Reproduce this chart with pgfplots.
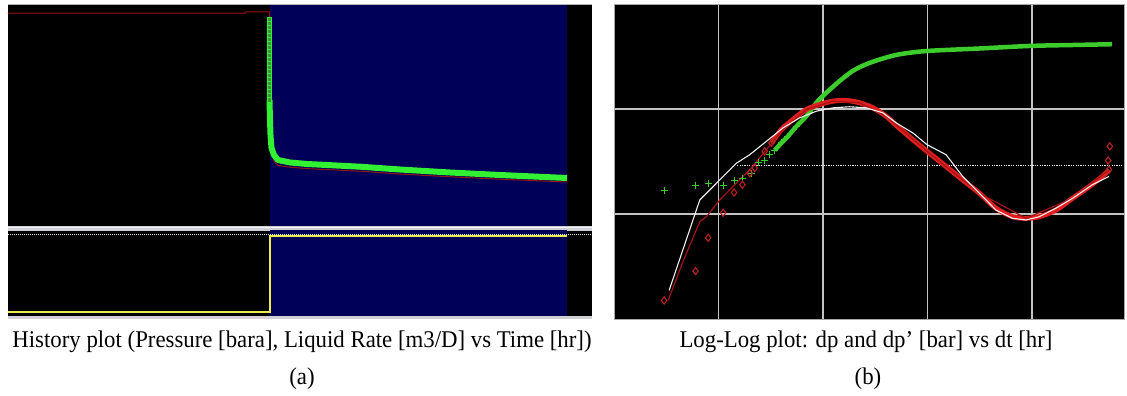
\documentclass[border=0pt]{standalone}
\usepackage{pgfplots}
\pgfplotsset{compat=1.18}
\usepackage{fontspec}
\setmainfont{Liberation Serif}

\definecolor{navy}{RGB}{0,0,88}
\definecolor{histgreen}{RGB}{50,240,50}
\definecolor{sqfill}{RGB}{60,150,55}
\definecolor{presred}{RGB}{150,20,20}
\definecolor{sepgrey}{RGB}{208,208,215}
\definecolor{rateyellow}{RGB}{235,235,80}
\definecolor{dpgreen}{RGB}{60,205,45}
\definecolor{derred}{RGB}{225,30,30}
\definecolor{diared}{RGB}{185,35,35}
\definecolor{fitred}{RGB}{165,20,20}
\definecolor{gridgrey}{RGB}{195,195,195}

\pgfplotsset{
  panel/.style={
    scale only axis, anchor=south west,
    xtick=\empty, ytick=\empty,
    axis background/.style={fill=black},
    axis line style={draw=none},
    clip=true,
  },
}

\begin{document}
\begin{tikzpicture}[x=1pt,y=1pt]
\useasboundingbox (0,0) rectangle (1127,396);

% ---------- (a) history plot: pressure pane ----------
\begin{axis}[panel, at={(8pt,170pt)}, width=584pt, height=221pt,
  xmin=0, xmax=58.4, ymin=150, ymax=260.5]
  % shut-in period
  \addplot[fill=navy, draw=none] coordinates {(26.2,140) (55.9,140) (55.9,270) (26.2,270)} -- cycle;
  % pressure
  \addplot[presred, line width=1pt] coordinates {
    (0,256.4) (23.7,256.4) (23.7,257) (26.15,257) (26.15,211) (26.25,200)
    (26.3,192.5) (26.4,186) (26.6,182.3) (27.0,180.3) (28.2,179.4) (29.9,178.7)
    (35.2,177.4) (39.2,176.0) (44.2,174.6) (49.2,173.4) (55.9,172.0)};
  % build-up points
  \addplot[histgreen, line width=6pt, line join=round] coordinates {
    (26.15,213) (26.2,203) (26.25,195.5) (26.35,189) (26.6,185.5) (27.0,183)
    (28.2,181.75) (29.9,181) (35.2,179.65) (39.2,178.25) (44.2,176.75)
    (49.2,175.5) (55.9,174)};
  \addplot[only marks, mark=square*, mark size=2.4pt,
    mark options={draw=histgreen, fill=sqfill, line width=1pt}] coordinates {
    (26.15,253) (26.15,251) (26.15,249) (26.15,247) (26.15,245) (26.15,243)
    (26.15,241) (26.15,239) (26.15,237) (26.15,235) (26.15,233) (26.15,231)
    (26.15,229) (26.15,227) (26.15,225) (26.15,223) (26.15,221) (26.15,219)
    (26.15,217) (26.15,215) (26.15,213)};
\end{axis}
\draw[gray!60, line width=0.8pt] (8,391.5) -- (592,391.5);
\fill[sepgrey] (8,165) rectangle (592,170);
\fill[white!92!gray] (8,167.5) rectangle (592,169);

% ---------- (a) history plot: rate pane ----------
\begin{axis}[panel, at={(8pt,80pt)}, width=584pt, height=85pt,
  xmin=0, xmax=58.4, ymin=-40, ymax=810]
  \addplot[fill=navy, draw=none] coordinates {(26.2,-100) (55.9,-100) (55.9,900) (26.2,900)} -- cycle;
  \addplot[white!80!gray, line width=1pt, dash pattern=on 1pt off 1pt] coordinates {(0,770) (58.4,770)};
  % liquid rate
  \addplot[rateyellow, line width=1.3pt] coordinates {
    (0,0) (26.2,0) (26.2,760) (55.9,760)};
\end{axis}
\fill[sepgrey] (8,77) rectangle (592,80);

% ---------- (b) log-log plot ----------
\begin{axis}[panel, at={(614pt,77pt)}, width=510pt, height=315pt,
  xmode=log, ymode=log,
  xmin=1e-3, xmax=75.9, ymin=0.01, ymax=10,
  xtick={0.01,0.1,1,10}, ytick={0.1,1},
  minor xtick={}, minor ytick={},
  xticklabels={}, yticklabels={}, major tick length=0pt, minor tick length=0pt,
  grid=major, grid style={gridgrey, line width=1.2pt},
  axis line style={draw=gray!70, line width=0.8pt}]
  % reference level
  \addplot[white!85!gray, line width=1pt, dash pattern=on 1.2pt off 1.2pt]
    coordinates {(0.0151,0.287) (75.9,0.287)};
  % pressure change dp
  \addplot[dpgreen, line width=4.5pt, smooth] coordinates {
    (0.0345,0.404) (0.0400,0.475) (0.0462,0.549) (0.0556,0.684) (0.0692,0.853)
    (0.0863,1.146) (0.1076,1.429) (0.144,1.845) (0.192,2.30) (0.259,2.67)
    (0.371,3.02) (0.540,3.32) (0.991,3.57) (3.13,3.77) (9.76,3.99) (28.2,4.08)
    (58.3,4.14)};
  \addplot[only marks, mark=+, mark size=3.5pt, mark options={dpgreen, line width=1pt}]
    coordinates {
    (0.00302,0.167) (0.00603,0.188) (0.00796,0.197) (0.01107,0.188) (0.01409,0.207)
    (0.01694,0.220) (0.02065,0.245) (0.02427,0.308) (0.02767,0.324) (0.0309,0.367)
    (0.0345,0.404) (0.0400,0.475) (0.0462,0.549) (0.0556,0.684)};
  % derivative dp'
  \addplot[derred, line width=5pt, smooth] coordinates {
    (0.0321,0.475) (0.0400,0.637) (0.0516,0.794) (0.0692,0.989) (0.0929,1.104)
    (0.1245,1.188) (0.167,1.206) (0.224,1.146) (0.300,1.026) (0.403,0.853)
    (0.516,0.681) (0.723,0.511) (0.991,0.395) (1.505,0.284) (2.17,0.211)
    (3.13,0.158) (4.52,0.1135) (6.51,0.0942) (8.75,0.0910) (11.72,0.0942)
    (16.9,0.109) (24.4,0.141) (35.2,0.182) (47.1,0.228) (54.6,0.264)};
  \addplot[only marks, mark=diamond, mark size=3.6pt, mark options={diared, line width=1.1pt}]
    coordinates {
    (0.00302,0.01503) (0.00603,0.0286) (0.00796,0.0593) (0.01107,0.1028)
    (0.01409,0.160) (0.01694,0.190) (0.0199,0.245) (0.0222,0.274) (0.02767,0.395)
    (0.0321,0.475) (55.5,0.441) (53.5,0.323) (54.6,0.264)};
  % model derivative
  \addplot[fitred, line width=1.2pt] coordinates {
    (0.00330,0.01503) (0.00456,0.0350) (0.00662,0.0843) (0.00767,0.0942)
    (0.01028,0.136) (0.01371,0.182) (0.0199,0.264) (0.0287,0.410) (0.0411,0.637)
    (0.0692,0.989) (0.1245,1.188) (0.224,1.146) (0.403,0.853) (0.991,0.395)
    (3.13,0.158) (8.75,0.091) (24.4,0.141) (54.6,0.264)};
  % model pressure
  \addplot[white!88!gray, line width=1.1pt] coordinates {
    (0.00337,0.01875) (0.00662,0.136) (0.01028,0.211) (0.01486,0.305) (0.0199,0.367)
    (0.0287,0.492) (0.0414,0.661) (0.0598,0.824) (0.0863,0.953) (0.1245,1.026)
    (0.179,1.050) (0.259,1.026) (0.373,0.920) (0.501,0.738) (0.723,0.592)
    (0.991,0.457) (1.505,0.367) (2.17,0.228) (3.13,0.158) (4.52,0.109)
    (6.51,0.0910) (8.75,0.0877) (11.72,0.0942) (16.9,0.1135) (24.4,0.141)
    (37.8,0.190) (54.6,0.228)};
\end{axis}

% ---------- captions ----------
\tikzset{caption/.style={anchor=base, xscale=0.95, font=\fontsize{24}{28}\selectfont}}
\node[caption] at (302,48)
  {History plot (Pressure [bara], Liquid Rate [m3/D] vs Time [hr])};
\node[caption] at (302,11) {(a)};
\node[caption] at (866,48)
  {Log-Log plot: dp and dp’ [bar] vs dt [hr]};
\node[caption] at (868,11) {(b)};
\end{tikzpicture}
\end{document}
